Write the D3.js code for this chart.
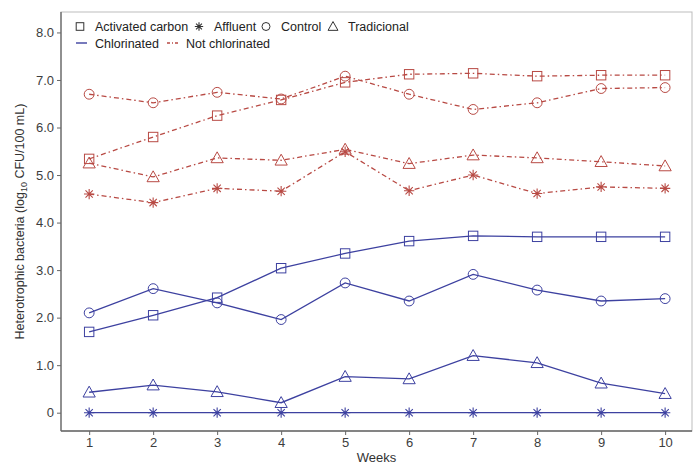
<!DOCTYPE html>
<html>
<head>
<meta charset="utf-8">
<script src="https://cdn.jsdelivr.net/npm/d3@7"></script>
<style>
  body { margin: 0; background: #fff; }
  text { font-family: "Liberation Sans", Arial, sans-serif; }
</style>
</head>
<body>
<div id="my_dataviz"></div>
<script>
var weeks = [1, 2, 3, 4, 5, 6, 7, 8, 9, 10];
var yTicks = [0, 1, 2, 3, 4, 5, 6, 7, 8];

// chlorinated
var clCarbon = [1.70, 2.05, 2.42, 3.04, 3.35, 3.61, 3.72, 3.70, 3.70, 3.70];
var clAffluent = [0, 0, 0, 0, 0, 0, 0, 0, 0, 0];
var clControl = [2.10, 2.61, 2.31, 1.96, 2.73, 2.35, 2.91, 2.58, 2.35, 2.40];
var clTrad = [0.43, 0.58, 0.44, 0.21, 0.76, 0.71, 1.20, 1.05, 0.62, 0.40];

// not chlorinated
var ncCarbon = [5.34, 5.80, 6.25, 6.58, 6.95, 7.12, 7.14, 7.08, 7.10, 7.10];
var ncAffluent = [4.60, 4.42, 4.72, 4.66, 5.49, 4.67, 5.00, 4.61, 4.75, 4.72];
var ncControl = [6.70, 6.52, 6.74, 6.60, 7.08, 6.70, 6.38, 6.52, 6.82, 6.84];
var ncTrad = [5.25, 4.96, 5.36, 5.31, 5.54, 5.24, 5.42, 5.36, 5.28, 5.19];

var blue = "#3d41a0", red = "#b84a44";

var margin = {top: 12, right: 7, bottom: 33, left: 61},
    width = 699 - margin.left - margin.right,
    height = 464 - margin.top - margin.bottom;

var svg = d3.select("#my_dataviz")
  .append("svg")
    .attr("width", 699)
    .attr("height", 464)
  .append("g")
    .attr("transform", "translate(" + margin.left + "," + margin.top + ")");

var x = d3.scaleLinear().domain([0.56, 10.42]).range([0, width]);
var y = d3.scaleLinear().domain([-0.385, 8.43]).range([height, 0]);

// panel border
svg.append("rect")
  .attr("width", width).attr("height", height)
  .attr("fill", "none").attr("stroke", "#bdbdbd").attr("stroke-width", 1);

var xAxis = svg.append("g")
  .attr("transform", "translate(0," + height + ")")
  .call(d3.axisBottom(x).tickValues(weeks).tickSize(4).tickPadding(3).tickFormat(d3.format("d")));
var yAxis = svg.append("g")
  .call(d3.axisLeft(y).tickValues(yTicks).tickSize(4).tickPadding(3)
    .tickFormat(function(d) { return d === 0 ? "0" : d3.format(".1f")(d); }));

[xAxis, yAxis].forEach(function(a) {
  a.select(".domain").attr("stroke", "#666").attr("stroke-width", 1.3);
  a.selectAll(".tick line").attr("stroke", "#666");
  a.selectAll(".tick text").attr("fill", "#3d3d3d").style("font-size", "13px");
});
xAxis.select(".domain").attr("d", "M0,0H" + width);
yAxis.select(".domain").attr("d", "M0,0V" + height);

svg.append("text")
  .attr("x", width / 2).attr("y", height + 31)
  .attr("text-anchor", "middle").attr("fill", "#333")
  .style("font-size", "13px").text("Weeks");

var yTitle = svg.append("text")
  .attr("transform", "translate(-37," + (height / 2) + ") rotate(-90)")
  .attr("text-anchor", "middle").attr("fill", "#333")
  .style("font-size", "12.5px");
yTitle.append("tspan").text("Heterotrophic bacteria (log");
yTitle.append("tspan").attr("dy", 3).style("font-size", "9px").text("10");
yTitle.append("tspan").attr("dy", -3).text(" CFU/100 mL)");

// marker shapes, k = half size
function marker(g, shape, cx, cy, color, k) {
  if (shape == "square") {
    g.append("rect").attr("x", cx - k).attr("y", cy - k).attr("width", 2 * k).attr("height", 2 * k)
      .attr("fill", "none").attr("stroke", color).attr("stroke-width", 1);
  } else if (shape == "circle") {
    g.append("circle").attr("cx", cx).attr("cy", cy).attr("r", k * 1.05)
      .attr("fill", "none").attr("stroke", color).attr("stroke-width", 1);
  } else if (shape == "triangle") {
    var t = k * 1.3;
    g.append("path").attr("d", "M" + cx + "," + (cy - t) + "L" + (cx + t) + "," + (cy + t * 0.78) + "L" + (cx - t) + "," + (cy + t * 0.78) + "Z")
      .attr("fill", "none").attr("stroke", color).attr("stroke-width", 1);
  } else {
    var r = k * 1.1, d = r * 0.707;
    g.append("path")
      .attr("d", "M" + (cx - r) + "," + cy + "H" + (cx + r) + "M" + cx + "," + (cy - r) + "V" + (cy + r) +
        "M" + (cx - d) + "," + (cy - d) + "L" + (cx + d) + "," + (cy + d) +
        "M" + (cx - d) + "," + (cy + d) + "L" + (cx + d) + "," + (cy - d))
      .attr("stroke", color).attr("stroke-width", 1.1);
  }
}

var series = [
  {v: ncCarbon, shape: "square", color: red, dash: "5,3,1.5,3"},
  {v: ncAffluent, shape: "asterisk", color: red, dash: "5,3,1.5,3"},
  {v: ncControl, shape: "circle", color: red, dash: "5,3,1.5,3"},
  {v: ncTrad, shape: "triangle", color: red, dash: "5,3,1.5,3"},
  {v: clCarbon, shape: "square", color: blue, dash: null},
  {v: clAffluent, shape: "asterisk", color: blue, dash: null},
  {v: clControl, shape: "circle", color: blue, dash: null},
  {v: clTrad, shape: "triangle", color: blue, dash: null}
];

var line = d3.line()
  .x(function(d, i) { return x(weeks[i]); })
  .y(function(d) { return y(d); });

series.forEach(function(s) {
  svg.append("path")
    .datum(s.v)
    .attr("d", line)
    .attr("fill", "none")
    .attr("stroke", s.color)
    .attr("stroke-width", 1.3)
    .attr("stroke-dasharray", s.dash);
  var g = svg.append("g");
  s.v.forEach(function(d, i) {
    marker(g, s.shape, x(weeks[i]), y(d), s.color, 4.7);
  });
});

// legend
var leg = svg.append("g");
var items1 = [
  {shape: "square", label: "Activated carbon", x: 19},
  {shape: "asterisk", label: "Affluent", x: 138},
  {shape: "circle", label: "Control", x: 205},
  {shape: "triangle", label: "Tradicional", x: 272}
];
items1.forEach(function(it) {
  var g = leg.append("g");
  marker(g, it.shape, it.x, 14.5, "#333", 3.8);
  leg.append("text").attr("x", it.x + 15).attr("y", 19)
    .attr("fill", "#222").style("font-size", "12.5px").text(it.label);
});
leg.append("line").attr("x1", 15).attr("x2", 26).attr("y1", 31).attr("y2", 31)
  .attr("stroke", blue).attr("stroke-width", 1.4);
leg.append("text").attr("x", 34).attr("y", 36).attr("fill", "#222")
  .style("font-size", "12.5px").text("Chlorinated");
leg.append("line").attr("x1", 106).attr("x2", 119).attr("y1", 31).attr("y2", 31)
  .attr("stroke", red).attr("stroke-width", 1.4).attr("stroke-dasharray", "3,2,1,2");
leg.append("text").attr("x", 125).attr("y", 36).attr("fill", "#222")
  .style("font-size", "12.5px").text("Not chlorinated");
</script>
</body>
</html>
